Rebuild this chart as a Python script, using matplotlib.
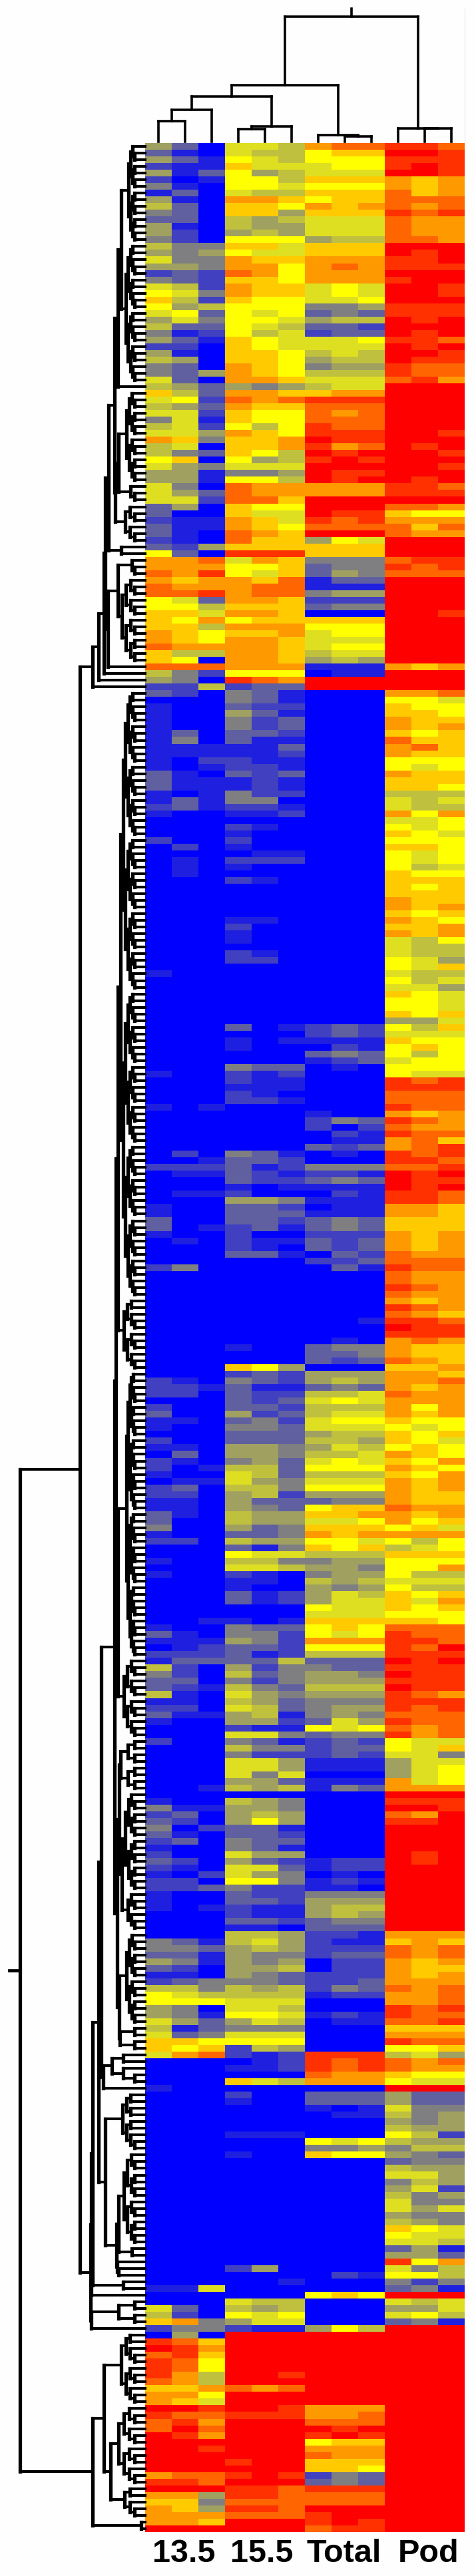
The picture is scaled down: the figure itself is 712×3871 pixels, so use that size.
import matplotlib; matplotlib.use("Agg")
import numpy as np
import matplotlib.pyplot as plt
from matplotlib.colors import LinearSegmentedColormap

# expression level per row, one 3-char code per row (0 blue .. 4 grey .. 8 yellow .. d red)
E13_5 = ("530 310 531 211 513 201 410 130 510 630 430 330 510 520 420 "
         "644 545 744 554 232 432 762 874 962 856 783 574 633 412 "
         "531 220 510 650 430 435 730 653 963 782 653 772 471 672 775 a94 670 643 890 754 "
         "551 551 740 753 772 350 300 211 311 310 210 325 830 aab aaa bac a9a baa bbc 873 "
         "886 997 98a 996 a98 a98 baa 966 980 bbb 642 540 226 320 000 100 100 100 100 130 "
         "140 111 111 102 101 310 311 311 101 131 231 "
         "100 000 000 000 200 020 000 010 010 010 000 000 000 000 000 000 000 000 000 000 "
         "000 000 000 000 100 000 000 000 000 000 000 000 000 000 000 000 000 000 000 100 "
         "000 000 000 000 101 000 000 000 000 000 000 020 001 222 011 000 000 011 000 100 "
         "100 300 301 100 010 000 000 000 240 000 "
         "000 000 000 000 000 000 000 000 000 000 000 000 000 000 000 "
         "210 221 220 000 200 300 110 100 000 200 110 030 210 201 100 "
         "011 230 220 110 110 310 300 400 100 220 000 000 100 000 100 000 000 000 000 000 "
         "000 001 100 310 111 012 222 133 620 420 330 321 610 110 220 311 100 000 000 200 "
         "000 000 000 000 000 000 001 000 100 411 230 320 402 310 230 100 200 320 210 102 "
         "220 223 100 100 101 000 000 000 000 431 443 331 541 320 110 234 664 876 888 540 "
         "541 753 613 734 998 989 7ab 000 000 000 000 100 000 000 000 000 000 000 000 000 "
         "000 000 000 000 000 000 000 000 000 "
         "000 000 000 000 000 000 000 000 000 000 000 000 117 000 000 "
         "730 620 9a4 244 050 "
         "cb9 dca bc9 cb8 cb8 ca6 ba6 99a aa8 a97 ddc cbb bca bdb dca ddd ddc ddd ddd ddd "
         "abb ccb ddd aa5 994 a95 aaa aa9 ddd ddd").split()

E15_5 = ("776 766 876 977 856 886 887 766 aa9 998 995 656 655 565 888 997 877 a99 aa8 ba8 "
         "998 a99 a99 988 888 878 887 876 867 "
         "987 987 998 998 a98 a98 aa9 545 aa9 bab a99 988 988 868 a98 99a 99a 986 856 777 "
         "445 886 baa baa bb9 988 977 a97 a98 ba9 b99 999 ccc 7a9 889 879 a9b abb abb aa9 "
         "999 aa9 899 aaa 99a aa9 aa9 aa9 aa9 aaa 888 cba 233 431 431 322 531 423 423 332 "
         "311 113 112 211 221 323 121 121 422 440 "
         "221 112 000 210 100 200 100 011 222 100 000 210 000 000 000 000 000 110 200 100 "
         "100 000 210 220 000 000 000 000 000 000 000 000 000 301 000 101 100 000 000 433 "
         "212 211 111 210 221 000 000 000 000 000 000 000 431 332 312 321 322 101 200 554 "
         "332 333 332 231 200 211 210 331 000 000 "
         "000 000 000 000 000 000 000 000 000 000 000 100 000 000 985 "
         "232 432 311 322 323 332 523 342 443 333 333 554 554 453 663 "
         "763 754 664 562 533 543 655 655 534 334 655 314 877 664 776 210 110 100 312 312 "
         "000 000 101 433 442 542 332 312 336 524 634 424 643 754 653 763 561 552 211 774 "
         "431 644 422 775 775 747 553 656 000 654 554 565 585 331 332 433 431 755 532 773 "
         "754 884 422 322 332 211 211 332 110 665 675 565 544 545 556 543 443 656 666 777 "
         "776 887 576 444 777 888 265 212 012 112 000 976 000 200 100 000 000 000 000 111 "
         "000 000 100 000 000 000 000 000 000 "
         "000 000 000 000 000 000 000 000 000 000 250 000 001 000 000 "
         "766 656 878 577 211 "
         "ddd ddd ddd ddd ddd ddd ddc ddd bab ddd ddd ddc ccc ddd ddd ddd ddd ddd ddd cdd "
         "ddd cdc ddd ccb ccb bbb ccb bbb ddd ddd").split()

TOTAL = ("abb 899 888 788 777 999 888 999 899 a9a 999 777 777 777 566 999 999 aaa aba aaa "
         "aaa 787 787 778 445 343 566 332 233 "
         "778 777 676 566 455 666 777 677 9aa ccc bbb bab bbb cbb ccc dcc cab dcd cdc ddd "
         "dcc dcd aaa aaa ddd ddd dcc cbc bbb ddd 587 999 999 444 344 354 133 111 455 222 "
         "344 000 999 888 788 777 788 677 565 111 011 ddd ddd 000 000 000 000 000 000 000 "
         "000 000 000 000 000 000 000 000 000 000 "
         "000 000 000 000 000 000 000 000 000 000 000 000 000 000 000 000 000 000 000 000 "
         "000 000 000 000 000 000 000 000 000 000 000 000 000 232 232 111 021 343 123 010 "
         "000 000 000 000 000 000 100 243 202 021 011 323 010 000 444 221 343 111 021 111 "
         "011 111 343 343 222 323 323 032 223 031 "
         "000 000 000 000 000 000 000 001 000 000 010 344 334 323 000 "
         "555 565 343 667 787 666 677 788 777 566 665 576 667 787 888 "
         "666 777 888 555 344 899 99a 778 999 a9a 887 989 666 455 554 455 656 545 576 577 "
         "877 777 999 898 878 aaa 888 666 333 433 554 555 666 555 444 455 454 375 878 344 "
         "232 233 232 111 111 000 111 143 000 000 000 000 000 000 000 000 000 000 122 122 "
         "010 121 110 444 555 566 565 344 333 221 211 222 233 022 022 222 223 243 122 000 "
         "000 121 011 000 000 000 000 ccc cbc cbc baa aaa 000 333 333 101 011 000 000 000 "
         "878 445 988 000 000 000 000 000 000 "
         "000 000 000 000 000 000 000 000 000 000 000 021 000 000 898 "
         "000 000 000 000 586 "
         "ddd ddd ddd ddd ddd ddd ddd ddd ddd ddd ddd aaa aab bbb dcd cdc 899 aaa baa 999 "
         "998 243 343 ccc bbb bbb ddd cdd cdc bcc").split()

POD = ("ccb ddc ccc cdc ddc a9a a9a b9a bbb bab cbc baa baa baa bba ddd dcd ccd ccc ddd "
       "cdd ddc ddc ddd ccc ccc dcd ddd dcd "
       "ccb dcd ddc dcc cbb cbb bca ddd ddd ddd ddd ddd ddd ddd ddc ddd dcd ddc ddd ddc "
       "ddd dcd ccb ccc ddd bba 988 aaa b9b baa ddd ddd ddd bcc cbc bbb ddd ddd ddd ddd "
       "ddd ddc ddd ddd ddd ddd ddd ddd ddd a9a ddd ddd ddd aab 887 988 998 a99 a9a 989 "
       "b99 ab9 a99 888 878 a99 999 998 666 767 "
       "766 a8a 778 878 987 888 998 878 878 867 988 999 989 999 a99 a9a 989 a98 99a a9a "
       "768 766 766 875 879 766 867 775 987 887 887 989 557 869 777 988 898 868 788 888 "
       "877 cbc ccc bbb bbb cbb a9a cba baa cbb ab9 abc cbc ccb bbc dcd dcc dcd ccb ccb "
       "aa9 aa9 999 999 a9a a9a a9a baa bbb cbb "
       "baa baa cba baa a9a cba ba9 ccb dcc ccc aba a99 a99 ba9 99a aa9 aab a9a baa aaa "
       "a8a a9a 988 878 989 987 898 a98 98a a98 98a a9a a9a a99 a99 baa a9a a89 897 aaa "
       "868 678 999 888 88a 866 777 866 989 97a 989 888 998 bbb cbb ccb cbd ccc dcd ccc "
       "dcc ccc dcc cba ccc cbc bbb cbb bab cab "
       "877 879 774 577 578 578 a78 aaa ddd ccc ddc bad ccd ddd ddd ddd ddd dcd dcd ddd "
       "ddd ddd ddd ddd ddd ddd ddd ddd ddd aaa 9a9 bab bab a9a a99 a9a aaa bab aab aab "
       "cbc cbb bbc 999 aaa cbb 889 675 bab baa 988 877 ddd 533 533 744 645 545 655 862 "
       "655 466 543 344 655 775 465 572 645 "
       "744 757 544 654 987 877 776 351 553 c8a 746 886 424 341 ddd "
       "767 557 786 341 ddd "
       "ddd ddd ddd ddd ddd ddd ddd ddd ddd ddd ddd ddd ddd ddd ddd ddd ddd ddd ddd ddd "
       "ddd ddd ddd ddd ddd ddd ddd ddd ddd ddd").split()

GROUPS = ["13.5", "15.5", "Total", "Pod"]
GROUP_X = [276, 393, 517, 644]

W, H = 712, 3871
LEFT, RIGHT, TOP, BOTTOM = 218, 698, 215, 3805


def C(n, x):                                    # n leaves packed into a balanced comb, leftmost merge at x
    return ("c", n, x)


def M(x, a, b):                                 # one merge at height x
    return ("m", x, a, b)


# ---- row tree: heights are pixels from the left edge ----
P = M(177, M(182, C(15, 193), C(21, 189)), C(1, 184))
R = M(173, M(178, C(14, 190), C(3, 196)), C(6, 188))
X4 = M(163, M(172, P, R), C(2, 182))
X5 = M(177, C(3, 198), C(13, 183))
UPPER = M(139, M(148, M(156, M(158, X4, M(162, X5, C(1, 0))), C(1, 0)), C(1, 0)), C(1, 0))
A1 = M(174, M(177, C(91, 181), C(11, 186)), M(177, C(43, 190), C(12, 186)))
A2 = M(176, M(179, C(8, 181), M(183, C(15, 188), C(6, 192))), M(179, C(14, 190), C(4, 180)))
TOP_Z = M(152, M(172, A1, A2), M(155, C(5, 168), C(1, 0)))
W_Z = M(175, M(178, C(14, 186), C(2, 198)), M(176, C(1, 0), M(178, C(1, 0), C(1, 0))))
LOWER_Z = M(148, TOP_Z, M(158, C(9, 184), W_Z))
Z = M(136, M(137, M(139, LOWER_Z, C(2, 185)), C(1, 0)), M(137, C(4, 178), C(1, 0)))
Y = M(139, M(156, C(11, 182), M(166, C(12, 178), C(5, 187))), C(2, 212))
ROW_TREE = M(30, M(120, UPPER, Z), Y)
ROW_ROOT_TIP = 14
COMB_RIGHT = 202

# ---- column tree: heights are pixels from the top edge ----
COL_TREE = (25,
            (128,
             (145, (165, (182, 0, 1), 2), (190, (194, 3, 4), 5)),
             (203, 6, (205, 7, 8))),
            (193, 9, (193, 10, 11)))
COL_ROOT_TIP = 13

data = np.array([[int(c, 14) for c in a + b + t + p]
                 for a, b, t, p in zip(E13_5, E15_5, TOTAL, POD)], float)
N = len(data)

cmap = LinearSegmentedColormap.from_list(
    "expr", [(0, "#0000ff"), (4 / 13, "#808080"), (8 / 13, "#ffff00"), (1, "#ff0000")])

fig = plt.figure(figsize=(W / 100, H / 100), dpi=100, facecolor="#fefefe")


def box(x0, y0, x1, y1):
    return [x0 / W, 1 - y1 / H, (x1 - x0) / W, (y1 - y0) / H]


ax = fig.add_axes(box(LEFT, TOP, RIGHT, BOTTOM))
ax.pcolormesh(np.arange(13), np.arange(N + 1), data, cmap=cmap, vmin=0, vmax=13)
ax.set_xlim(0, 12); ax.set_ylim(N, 0); ax.axis("off")

# ---- row dendrogram ----
left = fig.add_axes(box(0, TOP, LEFT, BOTTOM))
left.set_xlim(0, LEFT); left.set_ylim(N, 0); left.axis("off")


def lseg(xs, ys, lw):
    left.plot(xs, ys, color="black", lw=lw, solid_capstyle="projecting", clip_on=False)


def merge_left(x, ca, cb):
    lseg([ca[0], x], [ca[1], ca[1]], 2.9)
    lseg([cb[0], x], [cb[1], cb[1]], 2.9)
    lseg([x, x], [ca[1], cb[1]], 3.8)
    return x, (ca[1] + cb[1]) / 2


def comb(n, row, x, step):
    if n == 1:
        return LEFT, row + 0.5
    k = n // 2
    nx = min(x + step, COMB_RIGHT)
    return merge_left(x, comb(k, row, nx, step), comb(n - k, row + k, nx, step))


def walk(node, row):
    if node[0] == "c":
        _, n, x = node
        depth = int(np.ceil(np.log2(n))) if n > 1 else 1
        step = max(COMB_RIGHT - x, 0) / max(depth - 1, 1)
        return comb(n, row, x, step), row + n
    _, x, a, b = node
    ca, row = walk(a, row)
    cb, row = walk(b, row)
    return merge_left(x, ca, cb), row


root, used = walk(ROW_TREE, 0)
assert used == N, (used, N)
lseg([ROW_ROOT_TIP, root[0]], [root[1], root[1]], 3.4)

# ---- column dendrogram ----
top = fig.add_axes(box(LEFT, 0, RIGHT, TOP - 2))
top.set_xlim(0, 12); top.set_ylim(TOP - 2, 0); top.axis("off")


def tseg(xs, ys):
    top.plot(xs, ys, color="black", lw=2.6, solid_capstyle="projecting", clip_on=False)


def walk_top(node):
    if isinstance(node, int):
        return node + 0.5, TOP - 2
    h, a, b = node
    xa, ya = walk_top(a)
    xb, yb = walk_top(b)
    tseg([xa, xa], [ya, h])
    tseg([xb, xb], [yb, h])
    tseg([xa, xb], [h, h])
    return (xa + xb) / 2, h


rx, ry = walk_top(COL_TREE)
tseg([rx, rx], [ry, COL_ROOT_TIP])
top.plot([12, 12], [COL_ROOT_TIP, TOP - 2], color="#eeeeee", lw=1, clip_on=False)

for name, x in zip(GROUPS, GROUP_X):
    fig.text(x / W, 1 - 3838 / H, name, family="Liberation Sans", weight="bold", fontsize=35,
             ha="center", va="center")

fig.savefig("out.png", dpi=100, facecolor=fig.get_facecolor())
